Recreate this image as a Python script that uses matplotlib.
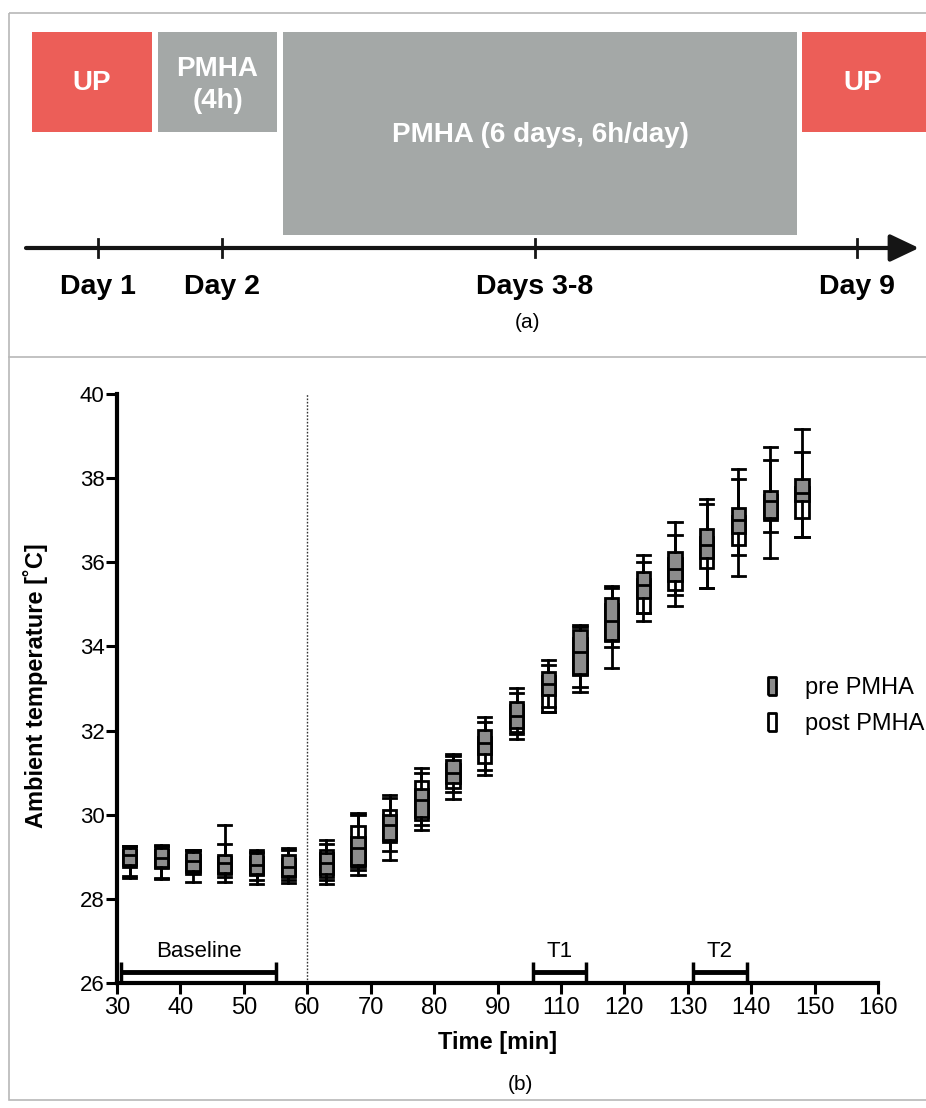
import matplotlib
matplotlib.use("Agg")
import matplotlib.pyplot as plt
from matplotlib.patches import Rectangle
from matplotlib.lines import Line2D

plt.rcParams['font.family'] = ['Liberation Sans', 'DejaVu Sans']

# panel (a): study timeline
day_labels = ['Day 1', 'Day 2', 'Days 3-8', 'Day 9']
phase_labels = ['UP', 'PMHA\n(4h)', 'PMHA (6 days, 6h/day)', 'UP']

# panel (b): ambient temperature box plots (pre / post PMHA)
times = [32, 37, 42, 47, 52, 57, 63, 68, 73, 78, 83, 88, 93, 98, 103, 108,
         113, 118, 123, 128, 133, 138]

pre_lo = [28.55, 28.50, 28.59, 28.53, 28.45, 28.45, 28.45, 28.69, 29.13, 29.76, 30.55,
          31.06, 31.93, 32.57, 33.04, 33.98, 34.79, 35.22, 35.40, 36.17, 36.73, 36.60]
pre_q1 = [28.80, 28.75, 28.66, 28.62, 28.58, 28.55, 28.60, 28.80, 29.40, 29.95, 30.75,
          31.45, 32.05, 32.85, 33.35, 34.15, 35.15, 35.55, 36.10, 36.70, 37.05, 37.45]
pre_med = [29.05, 28.97, 28.90, 28.85, 28.80, 28.75, 28.85, 29.20, 29.75, 30.35, 31.00,
           31.70, 32.35, 33.10, 33.87, 34.60, 35.45, 35.85, 36.40, 37.00, 37.45, 37.65]
pre_q3 = [29.20, 29.20, 29.12, 29.04, 29.08, 29.04, 29.10, 29.46, 30.00, 30.60, 31.30,
          32.01, 32.69, 33.40, 34.39, 35.14, 35.78, 36.24, 36.78, 37.30, 37.69, 37.98]
pre_hi = [29.25, 29.28, 29.17, 29.76, 29.16, 29.20, 29.40, 30.05, 30.47, 31.10, 31.44,
          32.33, 33.00, 33.68, 34.51, 35.44, 36.17, 36.95, 37.50, 38.22, 38.75, 39.17]

post_lo = [28.50, 28.47, 28.41, 28.39, 28.35, 28.37, 28.35, 28.57, 28.92, 29.64, 30.37,
           30.94, 31.81, 32.43, 32.92, 33.48, 34.61, 34.97, 35.40, 35.68, 36.10, 36.60]
post_q1 = [28.75, 28.73, 28.64, 28.60, 28.56, 28.53, 28.53, 28.76, 29.34, 29.87, 30.63,
           31.22, 31.97, 32.45, 33.32, 34.12, 34.79, 35.35, 35.86, 36.40, 37.00, 37.06]
post_med = [28.95, 28.90, 28.85, 28.80, 28.75, 28.70, 28.80, 29.10, 29.65, 30.25, 30.90,
            31.50, 32.25, 32.90, 33.75, 34.50, 35.20, 35.70, 36.20, 36.80, 37.35, 37.55]
post_q3 = [29.15, 29.15, 29.05, 29.00, 29.00, 28.95, 29.15, 29.73, 30.11, 30.79, 31.20,
           31.85, 32.60, 33.30, 34.20, 35.00, 35.60, 36.10, 36.60, 37.10, 37.60, 37.80]
post_hi = [29.25, 29.25, 29.15, 29.30, 29.12, 29.15, 29.30, 30.00, 30.40, 31.00, 31.40,
           32.20, 32.90, 33.56, 34.45, 35.40, 36.00, 36.65, 37.38, 37.98, 38.43, 38.63]

xtick_pos = [30, 40, 50, 60, 70, 80, 90, 100, 110, 120, 130, 140, 150]
xtick_labels = ['30', '40', '50', '60', '70', '80', '90', '110', '120', '130', '140', '150', '160']

periods = ['Baseline', 'T1', 'T2']
period_start = [30.7, 95.6, 120.8]
period_end = [55.0, 104.0, 129.3]


def make_stats(lo, q1, med, q3, hi):
    return [dict(whislo=a, q1=b, med=c, q3=d, whishi=e, fliers=[])
            for a, b, c, d, e in zip(lo, q1, med, q3, hi)]


fig = plt.figure(figsize=(9.26, 11.08), dpi=100)

# background axes in pixel units: frame + schematic of panel (a)
bg = fig.add_axes([0, 0, 1, 1])
bg.set_xlim(0, 926)
bg.set_ylim(1108, 0)
bg.axis('off')

frame_col = '#b8b8b8'
bg.add_patch(Rectangle((8.5, 12.5), 940, 1087, fill=False, ec=frame_col, lw=1.2))
bg.plot([8.5, 926], [357, 357], color=frame_col, lw=1.2)

red = '#ec5e58'
grey = '#a4a8a7'
spans = [(32, 152, 32, 132, red), (158, 277, 32, 132, grey),
         (283, 797, 32, 235, grey), (802, 940, 32, 132, red)]
text_xy = [(92, 83), (217.5, 85), (540, 135), (863, 83)]
for (x0, x1, y0, y1, c), lab, (tx, ty) in zip(spans, phase_labels, text_xy):
    bg.add_patch(Rectangle((x0, y0), x1 - x0, y1 - y0, color=c, lw=0))
    bg.text(tx, ty, lab, color='white', fontsize=20, fontweight='bold',
            ha='center', va='center', linespacing=1.35)

bg.annotate('', xy=(919, 248), xytext=(26, 248),
            arrowprops=dict(arrowstyle='-|>,head_length=0.8,head_width=0.38',
                            lw=3, color='#151515', mutation_scale=22,
                            shrinkA=0, shrinkB=0))
for x, lab in zip([98, 222, 535, 857], day_labels):
    bg.plot([x, x], [239, 257], color='#151515', lw=2)
    bg.text(x, 287, lab, fontsize=20.5, fontweight='bold', ha='center', va='center')

bg.text(527, 323, '(a)', fontsize=15, ha='center', va='center')
bg.text(520, 1084, '(b)', fontsize=15, ha='center', va='center')

# panel (b)
ax = fig.add_axes([117 / 926, 1 - 983 / 1108, (878 - 117) / 926, (983 - 394) / 1108])

common = dict(positions=times, widths=2.1, capwidths=2.1, patch_artist=True,
              showfliers=False, manage_ticks=False,
              whiskerprops=dict(color='black', lw=2),
              capprops=dict(color='black', lw=2),
              medianprops=dict(color='black', lw=2))
ax.bxp(make_stats(post_lo, post_q1, post_med, post_q3, post_hi),
       boxprops=dict(facecolor='white', edgecolor='black', lw=2), zorder=3, **common)
ax.bxp(make_stats(pre_lo, pre_q1, pre_med, pre_q3, pre_hi),
       boxprops=dict(facecolor='#8c8c8c', edgecolor='black', lw=2), zorder=4, **common)

ax.axvline(60, color='#333333', lw=1, ls=(0, (1.2, 1.2)), zorder=1)

for lab, s, e in zip(periods, period_start, period_end):
    ax.plot([s, e], [26.27, 26.27], color='black', lw=3.5, solid_capstyle='butt',
            clip_on=False, zorder=5)
    ax.vlines([s, e], 26.03, 26.5, color='black', lw=2.5, clip_on=False, zorder=5)
    ax.text((s + e) / 2, 26.74, lab, fontsize=16, ha='center', va='center')

ax.set_xlim(30, 150)
ax.set_ylim(26, 40)
ax.set_yticks(range(26, 41, 2))
ax.set_xticks(xtick_pos, labels=xtick_labels)
ax.tick_params(axis='y', labelsize=16, width=2.2, length=8, pad=1)
ax.tick_params(axis='x', labelsize=17, width=2.2, length=8, pad=2)
for side in ['top', 'right']:
    ax.spines[side].set_visible(False)
for side in ['left', 'bottom']:
    ax.spines[side].set_linewidth(3)
ax.patch.set_alpha(0)

fig.text(36 / 926, 1 - 686 / 1108, 'Ambient temperature [˚C]', rotation=90,
         fontsize=17, fontweight='bold', ha='center', va='center')
fig.text(498 / 926, 1 - 1043 / 1108, 'Time [min]', fontsize=17, fontweight='bold',
         ha='center', va='center')

rect = [(-0.45, -1), (0.45, -1), (0.45, 1), (-0.45, 1), (-0.45, -1)]
handles = [Line2D([], [], ls='none', marker=rect, ms=13, mfc='#8c8c8c', mec='black', mew=2),
           Line2D([], [], ls='none', marker=rect, ms=13, mfc='white', mec='black', mew=2)]
ax.legend(handles, ['pre PMHA', 'post PMHA'], loc='center left',
          bbox_to_anchor=(760 / 926, 1 - 706 / 1108), bbox_transform=fig.transFigure,
          frameon=False, fontsize=17, handlelength=1, handletextpad=0.9,
          labelspacing=0.6, borderpad=0, borderaxespad=0)

fig.savefig('out.png', dpi=100)
